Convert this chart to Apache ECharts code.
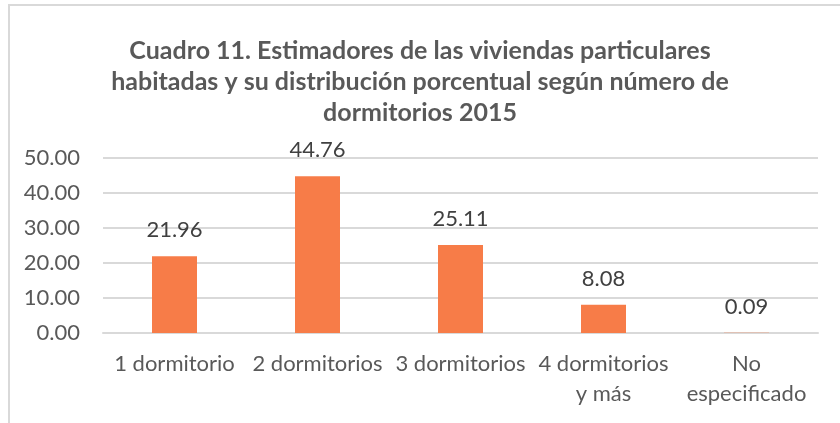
<html>
<head>
<meta http-equiv="content-type" content="text/html; charset=utf-8">
<script src="https://cdn.jsdelivr.net/npm/echarts@6/dist/echarts.min.js"></script>
<style>
	html, body { margin: 0; padding: 0; background: #ffffff; width: 840px; height: 423px; overflow: hidden; }
	#frame { position: absolute; left: 8px; top: 4px; width: 900px; height: 500px; border-left: 2px solid #d9d9d9; border-top: 2px solid #d9d9d9; }
	#chart { position: absolute; left: 0; top: 0; width: 840px; height: 423px; }
</style>
<title>Cuadro 11</title>
</head>
<body>
<div id="frame"></div>
<div id="chart"></div>
<script type="text/javascript">
// data
var title_text = "Cuadro 11. Estimadores de las viviendas particulares\nhabitadas y su distribución porcentual según número de\ndormitorios 2015";
var categories = ["1 dormitorio", "2 dormitorios", "3 dormitorios", "4 dormitorios\ny más", "No\nespecificado"];
var values = [21.96, 44.76, 25.11, 8.08, 0.09];

var font = "Lato, 'Open Sans', sans-serif";

var chart = echarts.init(document.getElementById('chart'), null, {renderer: 'canvas'});

chart.setOption({
	backgroundColor: 'transparent',
	animation: false,
	title: {
		text: title_text,
		left: 'center',
		top: 30,
		textStyle: {
			fontFamily: font,
			fontSize: 25,
			fontWeight: 'bold',
			color: '#595959',
			lineHeight: 31,
		},
	},
	grid: {
		left: 103,
		right: 22,
		top: 158,
		height: 175,
	},
	xAxis: {
		type: 'category',
		data: categories,
		axisLine: {lineStyle: {color: '#d9d9d9', width: 2}},
		axisTick: {show: false},
		axisLabel: {
			fontFamily: font,
			fontSize: 22,
			color: '#595959',
			lineHeight: 30,
			margin: 16,
			interval: 0,
		},
	},
	yAxis: {
		type: 'value',
		min: 0,
		max: 50,
		interval: 10,
		axisLine: {show: false},
		axisTick: {show: false},
		splitLine: {lineStyle: {color: '#d9d9d9', width: 2}},
		axisLabel: {
			fontFamily: font,
			fontSize: 22,
			color: '#595959',
			margin: 23,
			formatter: function(v) { return v.toFixed(2); },
		},
	},
	series: [{
		type: 'bar',
		data: values,
		barWidth: 45,
		itemStyle: {color: '#f77c48'},
		label: {
			show: true,
			position: 'top',
			distance: 15,
			fontFamily: font,
			fontSize: 22,
			color: '#404040',
			formatter: function(p) { return p.value.toFixed(2); },
		},
	}],
});
</script>
</body>
</html>
